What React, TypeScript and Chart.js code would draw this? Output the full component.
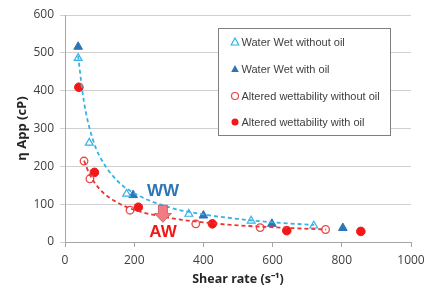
import React, { useEffect, useRef } from 'react';
import { Chart, registerables } from 'chart.js';
Chart.register(...registerables);

const wwNoOilX = [38, 70, 178, 358, 538, 719];
const wwNoOilY = [486, 262, 127, 74, 56, 43];
const wwOilX = [38, 197, 400, 598, 803];
const wwOilY = [516, 124, 70, 48, 37];
const awNoOilX = [55, 72, 188, 378, 564, 753];
const awNoOilY = [214, 167, 84, 48, 38, 33];
const awOilX = [40, 85, 212, 426, 641, 855];
const awOilY = [409, 184, 92, 48, 30, 28];
const wwTrendX = [38, 50, 60, 80, 100, 150, 200, 300, 400, 500, 600, 720];
const wwTrendY = [492, 400, 344, 272, 227, 163, 129, 92, 73, 61, 52, 45];
const awTrendX = [55, 70, 100, 150, 200, 300, 400, 500, 600, 755];
const awTrendY = [215, 181, 140, 105, 85, 64, 52, 44, 39, 33];

const seriesLabels = [
  'Water Wet without oil',
  'Water Wet with oil',
  'Altered wettability without oil',
  'Altered wettability with oil',
];
const xTicks = [0, 200, 400, 600, 800, 1000];
const yTicks = [0, 100, 200, 300, 400, 500, 600];
const arrowX = 283;
const arrowTop = 97;
const arrowBottom = 52;

const LIGHT_BLUE = '#35B2E6';
const DARK_BLUE = '#2E75B6';
const RED = '#F01818';
const LIGHT_RED = '#EE4444';
const FONT = '"Open Sans", "Liberation Sans", sans-serif';
const LEG_FONT = '"Liberation Sans", Arial, sans-serif';

const pts = (xs: number[], ys: number[]) => xs.map((x, i) => ({ x, y: ys[i] }));

function drawMarker(ctx: CanvasRenderingContext2D, kind: number, x: number, y: number) {
  ctx.save();
  if (kind === 0 || kind === 1) {
    const r = 4;
    ctx.beginPath();
    ctx.moveTo(x, y - r);
    ctx.lineTo(x + r * 0.95, y + r * 0.75);
    ctx.lineTo(x - r * 0.95, y + r * 0.75);
    ctx.closePath();
    if (kind === 1) {
      ctx.fillStyle = DARK_BLUE;
      ctx.fill();
    } else {
      ctx.fillStyle = '#fff';
      ctx.fill();
      ctx.strokeStyle = LIGHT_BLUE;
      ctx.lineWidth = 1.2;
      ctx.stroke();
    }
  } else {
    ctx.beginPath();
    ctx.arc(x, y, 3.5, 0, Math.PI * 2);
    if (kind === 3) {
      ctx.fillStyle = RED;
      ctx.fill();
    } else {
      ctx.fillStyle = '#fff';
      ctx.fill();
      ctx.strokeStyle = LIGHT_RED;
      ctx.lineWidth = 1.2;
      ctx.stroke();
    }
  }
  ctx.restore();
}

const overlayPlugin = {
  id: 'overlay',
  afterDatasetsDraw(chart: any) {
    const ctx: CanvasRenderingContext2D = chart.ctx;
    const xs = chart.scales.x;
    const ys = chart.scales.y;
    // arrow
    const ax = xs.getPixelForValue(arrowX);
    const at = ys.getPixelForValue(arrowTop);
    const ab = ys.getPixelForValue(arrowBottom);
    const headStart = at + (ab - at) * 0.48;
    ctx.save();
    ctx.beginPath();
    ctx.moveTo(ax - 4.5, at);
    ctx.lineTo(ax + 4.5, at);
    ctx.lineTo(ax + 4.5, headStart);
    ctx.lineTo(ax + 8.5, headStart);
    ctx.lineTo(ax, ab);
    ctx.lineTo(ax - 8.5, headStart);
    ctx.lineTo(ax - 4.5, headStart);
    ctx.closePath();
    ctx.fillStyle = '#F07C84';
    ctx.fill();
    ctx.strokeStyle = '#C9505A';
    ctx.lineWidth = 0.8;
    ctx.stroke();
    // WW / AW labels
    ctx.font = 'bold 17px "Liberation Sans", sans-serif';
    ctx.textAlign = 'center';
    ctx.textBaseline = 'middle';
    ctx.fillStyle = DARK_BLUE;
    ctx.fillText('WW', 163, 191);
    ctx.fillStyle = RED;
    ctx.fillText('AW', 163, 232);
    // legend
    ctx.fillStyle = '#fff';
    ctx.fillRect(218, 28, 172, 107);
    ctx.strokeStyle = '#7F7F7F';
    ctx.lineWidth = 1;
    ctx.strokeRect(218.5, 28.5, 172, 107);
    const rows = [42, 69, 96, 122];
    ctx.font = '11px ' + LEG_FONT;
    ctx.textAlign = 'left';
    ctx.textBaseline = 'middle';
    seriesLabels.forEach((lab, i) => {
      drawMarker(ctx, i, 235, rows[i]);
      ctx.fillStyle = '#404040';
      ctx.fillText(lab, 241.5, rows[i] + 0.5);
    });
    ctx.restore();
  },
};

export default function App() {
  const ref = useRef<HTMLCanvasElement>(null);
  useEffect(() => {
    const canvas = ref.current;
    if (!canvas) return;
    const chart = new Chart(canvas, {
      type: 'scatter',
      data: {
        datasets: [
          {
            label: 'ww trend',
            data: pts(wwTrendX, wwTrendY),
            showLine: true,
            borderColor: LIGHT_BLUE,
            borderWidth: 1.8,
            borderDash: [4, 3],
            pointRadius: 0,
            cubicInterpolationMode: 'monotone',
          },
          {
            label: 'aw trend',
            data: pts(awTrendX, awTrendY),
            showLine: true,
            borderColor: '#EE3333',
            borderWidth: 1.8,
            borderDash: [4, 3],
            pointRadius: 0,
            cubicInterpolationMode: 'monotone',
          },
          {
            label: seriesLabels[0],
            data: pts(wwNoOilX, wwNoOilY),
            pointStyle: 'triangle',
            pointRadius: 4.5,
            backgroundColor: '#fff',
            borderColor: LIGHT_BLUE,
            borderWidth: 1.2,
          },
          {
            label: seriesLabels[1],
            data: pts(wwOilX, wwOilY),
            pointStyle: 'triangle',
            pointRadius: 5,
            backgroundColor: DARK_BLUE,
            borderColor: DARK_BLUE,
            borderWidth: 1,
          },
          {
            label: seriesLabels[2],
            data: pts(awNoOilX, awNoOilY),
            pointStyle: 'circle',
            pointRadius: 3.8,
            backgroundColor: '#fff',
            borderColor: LIGHT_RED,
            borderWidth: 1.3,
          },
          {
            label: seriesLabels[3],
            data: pts(awOilX, awOilY),
            pointStyle: 'circle',
            pointRadius: 4.3,
            backgroundColor: RED,
            borderColor: RED,
            borderWidth: 1,
          },
        ],
      },
      options: {
        responsive: false,
        animation: false,
        layout: { padding: { top: 15, right: 24, left: 0, bottom: 0 } },
        plugins: { legend: { display: false }, tooltip: { enabled: false } },
        scales: {
          x: {
            type: 'linear',
            min: 0,
            max: 1000,
            afterBuildTicks: (s: any) => {
              s.ticks = xTicks.map((v) => ({ value: v }));
            },
            afterFit: (s: any) => {
              s.height = 47;
            },
            grid: { drawOnChartArea: false, drawTicks: true, tickLength: 5, color: '#A6A6A6' },
            border: { display: true, color: '#A6A6A6' },
            ticks: {
              color: '#404040',
              font: { family: FONT, size: 12 },
              padding: 6,
              callback: (v: any) => String(v),
            },
            title: {
              display: true,
              text: 'Shear rate (s⁻¹)',
              color: '#262626',
              font: { family: FONT, size: 12.5, weight: 'bold' },
              padding: { top: 0, bottom: 2 },
            },
          },
          y: {
            type: 'linear',
            min: 0,
            max: 600,
            afterBuildTicks: (s: any) => {
              s.ticks = yTicks.map((v) => ({ value: v }));
            },
            afterFit: (s: any) => {
              s.width = 65;
            },
            grid: { color: '#D0D0D0', tickLength: 5, drawTicks: true },
            border: { display: true, color: '#A6A6A6' },
            ticks: {
              color: '#404040',
              font: { family: FONT, size: 12 },
              padding: 6,
              callback: (v: any) => String(v),
            },
            title: {
              display: true,
              text: 'η App (cP)',
              color: '#262626',
              font: { family: FONT, size: 13, weight: 'bold' },
              padding: { top: 14, bottom: 4 },
            },
          },
        },
      },
      plugins: [overlayPlugin],
    } as any);
    return () => chart.destroy();
  }, []);
  return (
    <div style={{ position: 'absolute', left: 0, top: 0, width: 435, height: 289, background: '#fff' }}>
      <canvas ref={ref} width={435} height={289} style={{ width: 435, height: 289 }} />
    </div>
  );
}
